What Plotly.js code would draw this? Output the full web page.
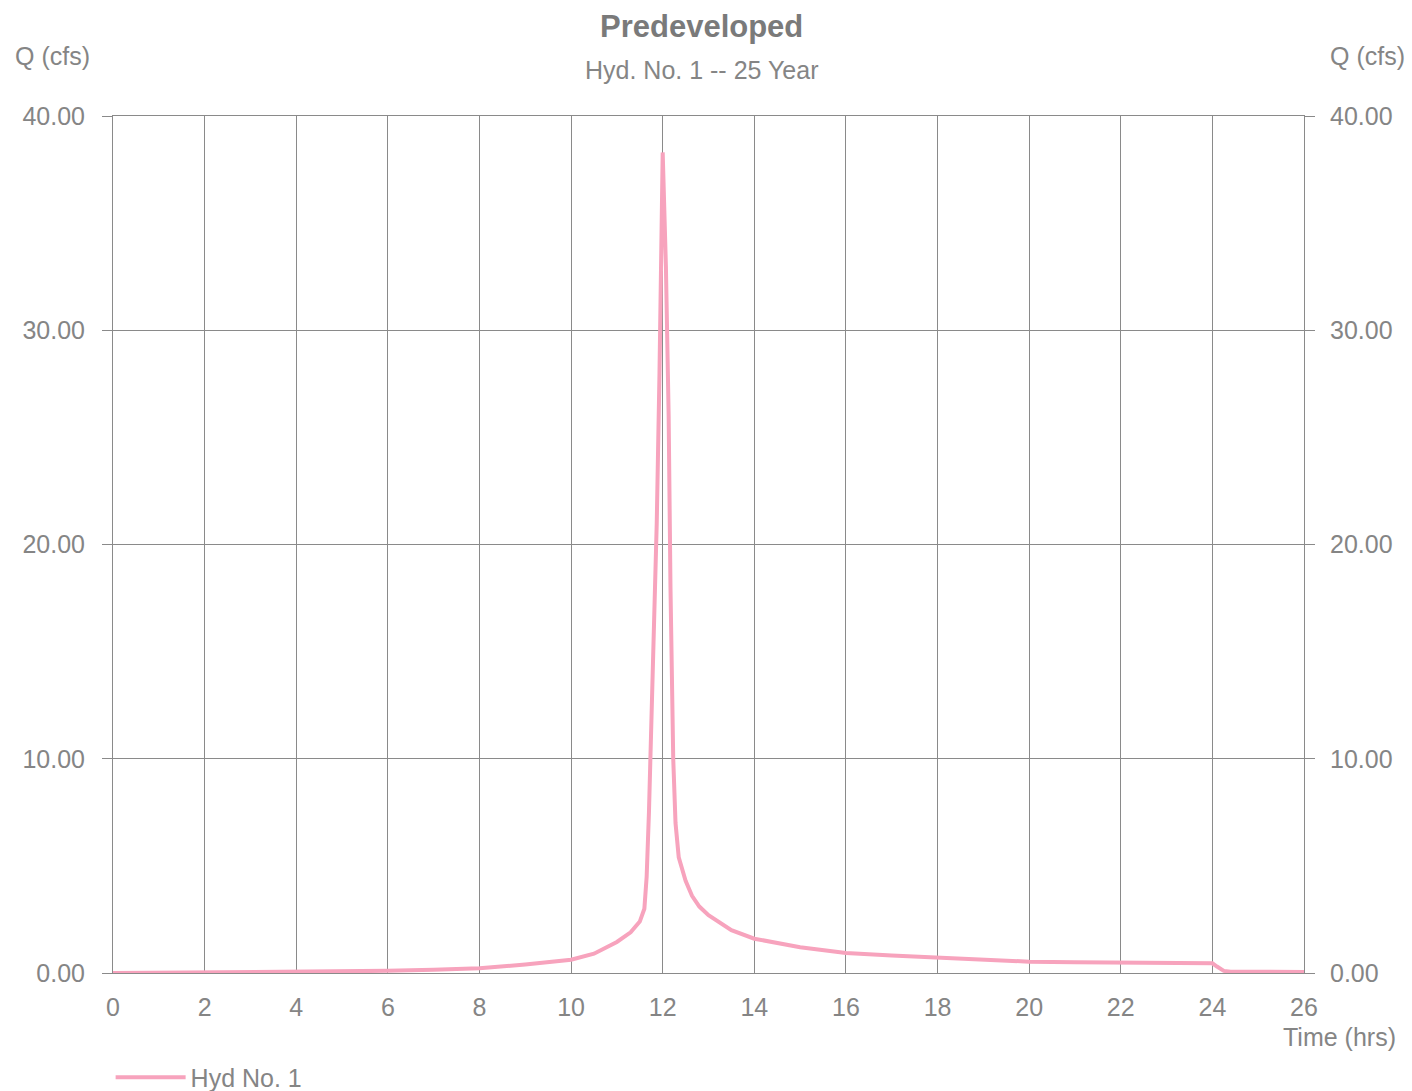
<!DOCTYPE html>
<html>
<head>
<meta charset="utf-8">
<script src="https://cdn.plot.ly/plotly-3.0.1.min.js"></script>
<style>html,body{margin:0;padding:0;background:#fff;}#chart{width:1412px;height:1091px;}</style>
</head>
<body>
<div id="chart"></div>
<script>
// Hydrograph: Hyd No. 1 (Predeveloped, 25 Year)
const timeHrs = [0, 2, 4, 6, 7, 8, 9, 10, 10.5, 11, 11.3, 11.5, 11.6, 11.65, 11.7, 11.75, 11.8, 11.87, 11.93, 12.0,
                 12.07, 12.13, 12.17, 12.2, 12.23, 12.28, 12.35, 12.5, 12.64, 12.8, 13, 13.5, 14, 15, 16, 17, 18, 19, 20,
                 21, 22, 23, 24, 24.1, 24.25, 24.4, 25, 26];
const flowCfs = [0, 0.02, 0.05, 0.1, 0.15, 0.22, 0.4, 0.62, 0.9, 1.45, 1.9, 2.4, 3.0, 4.5, 7.5, 11.5, 16, 21, 28, 38.3,
                 33, 26, 18, 13, 10, 7, 5.4, 4.3, 3.6, 3.1, 2.7, 2.0, 1.6, 1.2, 0.93, 0.82, 0.73, 0.62, 0.53,
                 0.5, 0.47, 0.46, 0.45, 0.3, 0.1, 0.06, 0.05, 0.05];
const xTicks = [0, 2, 4, 6, 8, 10, 12, 14, 16, 18, 20, 22, 24, 26];
const yTicks = [0, 10, 20, 30, 40];
const seriesName = "Hyd No. 1";

const grey = "#8a8a8a";
const textGrey = "#858585";
const fontFam = "Liberation Sans, Arial, sans-serif";

const traces = [
  {x: timeHrs, y: flowCfs, type: "scatter", mode: "lines", name: seriesName,
   line: {color: "#f7a3bd", width: 4}, hoverinfo: "x+y"},
  {x: timeHrs, y: flowCfs, type: "scatter", mode: "lines", yaxis: "y2", showlegend: false,
   line: {color: "rgba(0,0,0,0)", width: 0}, hoverinfo: "skip"}
];

const layout = {
  width: 1412, height: 1091,
  margin: {l: 113, r: 108, t: 116, b: 118, autoexpand: false},
  paper_bgcolor: "#fff", plot_bgcolor: "#fff",
  font: {family: fontFam, color: textGrey, size: 25},
  showlegend: true,
  legend: {orientation: "h", x: -0.002, xanchor: "left", y: -0.122, yanchor: "middle",
           itemwidth: 70, font: {size: 25, color: textGrey}, bgcolor: "rgba(0,0,0,0)"},
  xaxis: {range: [0, 26], tickvals: xTicks, ticktext: xTicks.map(String),
          showgrid: true, gridcolor: grey, gridwidth: 1,
          showline: true, linecolor: grey, linewidth: 1, mirror: true,
          ticks: "", ticklabelstandoff: 12, zeroline: false,
          tickfont: {size: 25, color: textGrey}},
  yaxis: {range: [0, 40], tickvals: yTicks, tickformat: ".2f",
          showgrid: true, gridcolor: grey, gridwidth: 1,
          showline: true, linecolor: grey, linewidth: 1, mirror: true,
          ticks: "outside", ticklen: 10, tickcolor: grey, zeroline: false,
          ticklabelstandoff: 12, tickfont: {size: 25, color: textGrey}},
  yaxis2: {range: [0, 40], tickvals: yTicks, tickformat: ".2f", overlaying: "y", side: "right",
           showgrid: false, showline: false, zeroline: false,
           ticks: "outside", ticklen: 10, tickcolor: grey,
           ticklabelstandoff: 10, tickfont: {size: 25, color: textGrey}},
  annotations: [
    {text: "<b>Predeveloped</b>", xref: "paper", yref: "paper", x: 0.494, y: 1.104, xanchor: "center", yanchor: "middle",
     showarrow: false, font: {size: 31, color: "#7a7a7a"}},
    {text: "Hyd. No. 1 -- 25 Year", xref: "paper", yref: "paper", x: 0.494, y: 1.054, xanchor: "center", yanchor: "middle",
     showarrow: false, font: {size: 25, color: textGrey}},
    {text: "Q (cfs)", xref: "paper", yref: "paper", x: -0.051, y: 1.07, xanchor: "center", yanchor: "middle",
     showarrow: false, font: {size: 25, color: textGrey}},
    {text: "Q (cfs)", xref: "paper", yref: "paper", x: 1.053, y: 1.07, xanchor: "center", yanchor: "middle",
     showarrow: false, font: {size: 25, color: textGrey}},
    {text: "Time (hrs)", xref: "paper", yref: "paper", x: 1.03, y: -0.075, xanchor: "center", yanchor: "middle",
     showarrow: false, font: {size: 25, color: textGrey}}
  ]
};

Plotly.newPlot("chart", traces, layout, {displayModeBar: false, staticPlot: true});
</script>
</body>
</html>
